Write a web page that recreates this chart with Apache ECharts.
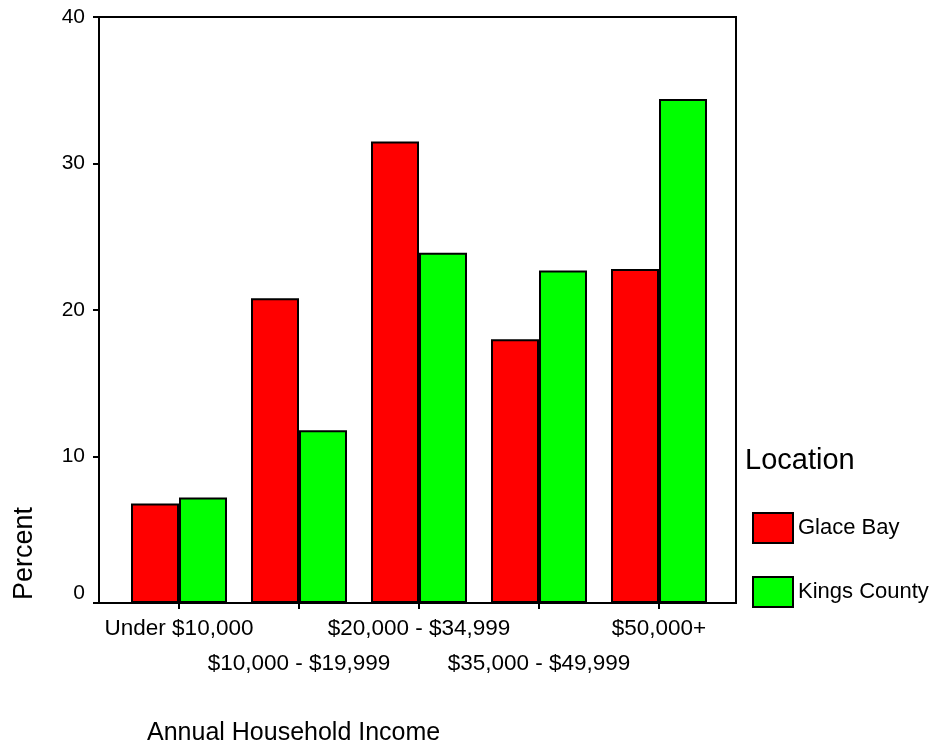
<!DOCTYPE html>
<html>
<head>
<meta charset="utf-8">
<script src="https://cdn.jsdelivr.net/npm/echarts@6/dist/echarts.min.js"></script>
<style>
  html, body { margin: 0; padding: 0; background: #fff; }
  #chart { width: 932px; height: 751px; }
</style>
</head>
<body>
<div id="chart"></div>
<script>
// income bands on the x axis
const categories = [
  "Under $10,000",
  "$10,000 - $19,999",
  "$20,000 - $34,999",
  "$35,000 - $49,999",
  "$50,000+"
];

// percent of households
const glaceBay = [6.8, 20.8, 31.5, 18.0, 22.8];
const kingsCounty = [7.2, 11.8, 23.9, 22.7, 34.4];

const yTicks = { min: 0, max: 40, interval: 10 };

const FONT = "'Liberation Sans', Arial, sans-serif";

const chart = echarts.init(document.getElementById("chart"));

const option = {
  animation: false,
  textStyle: { fontFamily: FONT, color: "#000" },
  grid: [
    // outer frame
    { left: 99, right: 196, top: 17, bottom: 148, show: true, borderColor: "#000", borderWidth: 2, backgroundColor: "transparent" },
    // band where the bars sit
    { left: 119, right: 213, top: 17, bottom: 148 }
  ],
  xAxis: [
    { gridIndex: 0, type: "value", show: false, min: 0, max: 1 },
    {
      gridIndex: 1,
      type: "category",
      data: categories,
      boundaryGap: true,
      axisLine: { show: false },
      axisTick: { show: true, alignWithLabel: true, length: 6, lineStyle: { color: "#000", width: 2 } },
      axisLabel: {
        interval: 0,
        margin: 8,
        fontSize: 22.5,
        lineHeight: 35,
        color: "#000",
        fontFamily: FONT,
        formatter: (v, i) => (i % 2 ? "\n" + v : v)
      }
    }
  ],
  yAxis: [
    { gridIndex: 0, type: "value", show: false, min: 0, max: 1 },
    {
      gridIndex: 1,
      type: "value",
      offset: 20,
      min: yTicks.min,
      max: yTicks.max,
      interval: yTicks.interval,
      splitLine: { show: false },
      axisLine: { show: true, lineStyle: { color: "#000", width: 2 } },
      axisTick: { show: true, length: 6, lineStyle: { color: "#000", width: 2 } },
      axisLabel: {
        margin: 14,
        fontSize: 21,
        color: "#000",
        fontFamily: FONT,
        formatter: v => (v === 0 ? "{z|0}" : String(v)),
        rich: { z: { fontSize: 21, fontFamily: FONT, padding: [0, 0, 20, 0] } }
      }
    }
  ],
  legend: {
    orient: "vertical",
    left: 752,
    top: 512,
    padding: 0,
    itemWidth: 40,
    itemHeight: 30,
    itemGap: 32,
    icon: "rect",
    textStyle: { fontSize: 22, color: "#000", fontFamily: FONT },
    data: ["Glace Bay", "Kings County"]
  },
  graphic: [
    { type: "text", left: 745, top: 446, style: { text: "Location", fontSize: 29, fontFamily: FONT, fill: "#000" } },
    { type: "text", left: 147, top: 721, style: { text: "Annual Household Income", fontSize: 25, fontFamily: FONT, fill: "#000" } },
    { type: "text", left: 11, top: 507, rotation: Math.PI / 2, style: { text: "Percent", fontSize: 27, fontFamily: FONT, fill: "#000" } }
  ],
  series: [
    {
      name: "Glace Bay",
      type: "bar",
      xAxisIndex: 1,
      yAxisIndex: 1,
      data: glaceBay,
      barWidth: 48,
      barGap: "0%",
      itemStyle: { color: "#ff0000", borderColor: "#000", borderWidth: 2 }
    },
    {
      name: "Kings County",
      type: "bar",
      xAxisIndex: 1,
      yAxisIndex: 1,
      data: kingsCounty,
      barWidth: 48,
      barGap: "0%",
      itemStyle: { color: "#00ff00", borderColor: "#000", borderWidth: 2 }
    }
  ]
};

chart.setOption(option);
</script>
</body>
</html>
